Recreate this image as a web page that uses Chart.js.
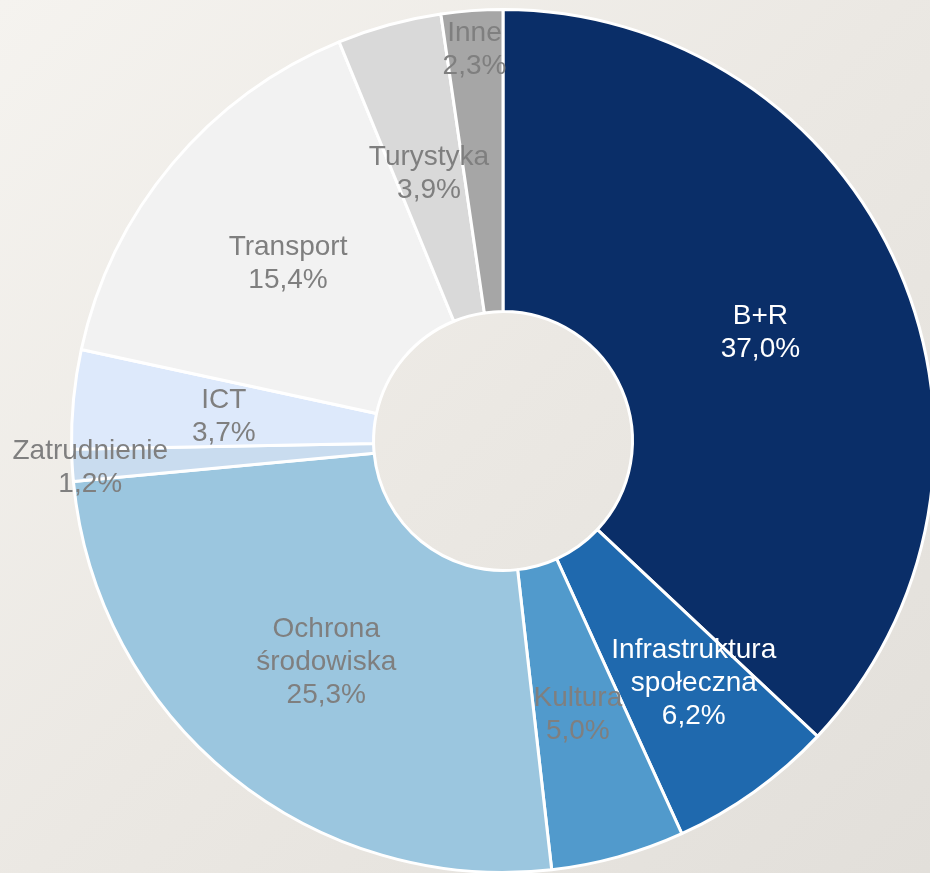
<!DOCTYPE html>
<html>
<head>
<meta charset="utf-8">
<script src="https://cdn.jsdelivr.net/npm/chart.js@4.4.0/dist/chart.umd.min.js"></script>
<style>
  html, body {
    margin: 0;
    padding: 0;
    width: 930px;
    height: 873px;
    overflow: hidden;
    background: linear-gradient(135deg, #f5f3ef 0%, #ebe8e3 50%, #e2dfda 100%);
  }
  #chart-holder { position: absolute; left: 0; top: 0; }
</style>
</head>
<body>
<div id="chart-holder">
  <canvas id="chart" width="950" height="880"></canvas>
</div>
<script>
// udział w alokacji, %
const categories = ['B+R', 'Infrastruktura społeczna', 'Kultura', 'Ochrona środowiska', 'Zatrudnienie', 'ICT', 'Transport', 'Turystyka', 'Inne'];
const shares = [37.0, 6.2, 5.0, 25.3, 1.2, 3.7, 15.4, 3.9, 2.3];
const sliceColors = ['#0a2e68', '#1f69ae', '#519acc', '#9bc6df', '#c9dcef', '#dde9fb', '#f2f2f2', '#d9d9d9', '#a6a6a6'];
const labelColors = ['#ffffff', '#ffffff', '#7f7f7f', '#7f7f7f', '#7f7f7f', '#7f7f7f', '#7f7f7f', '#7f7f7f', '#7f7f7f'];
// where the label sits across the ring: 0 = inner edge, 1 = outer edge
const labelDepth = [0.5, 0.585, 0.5, 0.5, 0.94, 0.5, 0.5, 0.5, 0.88];
// where the label sits along the slice: 0 = start, 1 = end
const labelAlong = [0.5, 0.37, 0.5, 0.5, 0.5, 0.5, 0.5, 0.5, 0.5];

const fmt = v => v.toFixed(1).replace('.', ',') + '%';

const sliceLabels = {
    id: 'sliceLabels',
    afterDatasetsDraw(chart) {
        const ctx = chart.ctx;
        const arcs = chart.getDatasetMeta(0).data;
        ctx.save();
        ctx.font = '28px "Liberation Sans", Arial, sans-serif';
        ctx.textAlign = 'center';
        ctx.textBaseline = 'middle';
        arcs.forEach((arc, i) => {
            const p = arc.getProps(['x', 'y', 'startAngle', 'endAngle', 'innerRadius', 'outerRadius'], true);
            const a = p.startAngle + (p.endAngle - p.startAngle) * labelAlong[i];
            const r = p.innerRadius + (p.outerRadius - p.innerRadius) * labelDepth[i];
            const cx = p.x + Math.cos(a) * r;
            const cy = p.y + Math.sin(a) * r + 3;
            const lines = categories[i].split(' ').concat([fmt(shares[i])]);
            const lh = 33;
            ctx.fillStyle = labelColors[i];
            lines.forEach((line, k) => {
                ctx.fillText(line, cx, cy + (k - (lines.length - 1) / 2) * lh);
            });
        });
        ctx.restore();
    }
};

let ctx = document.getElementById('chart').getContext('2d');
let myChart = new Chart(ctx, {
    type: 'doughnut',
    data: {
        labels: categories,
        datasets: [{
            data: shares,
            backgroundColor: sliceColors,
            borderColor: '#ffffff',
            borderWidth: 3
        }]
    },
    options: {
        responsive: false,
        animation: false,
        cutout: '30%',
        layout: { padding: { left: 70, right: 14, top: 8, bottom: 6 } },
        plugins: {
            legend: { display: false },
            tooltip: { enabled: false }
        }
    },
    plugins: [sliceLabels]
});
</script>
</body>
</html>
